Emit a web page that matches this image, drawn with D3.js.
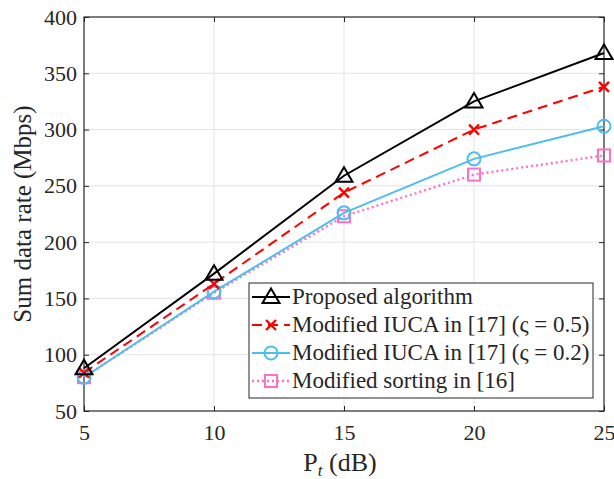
<!DOCTYPE html>
<html>
<head>
<meta charset="utf-8">
<script src="https://cdn.jsdelivr.net/npm/d3@7"></script>
<style>
  body { margin: 0; background: #fff; }
  text { font-family: "Liberation Serif", "DejaVu Serif", serif; fill: #262626; }
</style>
</head>
<body>
<svg id="chart" width="614" height="479"></svg>
<script>
// chart values
var powers = [5, 10, 15, 20, 25];
var proposed = [88, 172, 259, 325, 368];
var iuca05 = [84, 163, 244, 300, 338];
var iuca02 = [80, 156, 226, 274, 303];
var sorting = [80, 155, 223, 260, 277];
var yTicks = [50, 100, 150, 200, 250, 300, 350, 400];
var seriesNames = ['Proposed algorithm', 'Modified IUCA in [17] (\u03c2 = 0.5)',
    'Modified IUCA in [17] (\u03c2 = 0.2)', 'Modified sorting in [16]'];

(function() {
    var serif = '"Liberation Serif", "DejaVu Serif", serif';
    var series = [
        { name: seriesNames[0], values: proposed, color: '#000000', dash: null, marker: 'tri' },
        { name: seriesNames[1], values: iuca05, color: '#ff0000', dash: '10,6', marker: 'x' },
        { name: seriesNames[2], values: iuca02, color: '#4dbeee', dash: null, marker: 'circle' },
        { name: seriesNames[3], values: sorting, color: '#ff6ec7', dash: '2,3', marker: 'square' }
    ];

    var svg = d3.select('#chart'),
        pl = 84, pr = 604, pt = 17, pb = 411;

    var x = d3.scaleLinear().domain([5, 25]).range([pl, pr]);
    var y = d3.scaleLinear().domain([50, 400]).range([pb, pt]);

    // grid lines
    var grid = svg.append('g');
    grid.selectAll('.gx').data(powers.slice(1, -1)).enter().append('line')
        .attr('x1', function(d) { return x(d); }).attr('x2', function(d) { return x(d); })
        .attr('y1', pt).attr('y2', pb)
        .attr('stroke', '#e3e3e3').attr('stroke-width', 1);
    grid.selectAll('.gy').data(yTicks.slice(1, -1)).enter().append('line')
        .attr('x1', pl).attr('x2', pr)
        .attr('y1', function(d) { return y(d); }).attr('y2', function(d) { return y(d); })
        .attr('stroke', '#e3e3e3').attr('stroke-width', 1);

    // axes with inward ticks (box style)
    function styleAxis(g) {
        g.attr('font-family', serif);
        g.select('.domain').remove();
        g.selectAll('line').attr('stroke', '#262626');
        g.selectAll('text').style('font-size', '22px').style('font-family', serif).attr('fill', '#262626');
    }
    svg.append('g').attr('transform', 'translate(0,' + pb + ')')
        .call(d3.axisBottom(x).tickValues(powers).tickSize(-5).tickPadding(13))
        .call(styleAxis);
    svg.append('g').attr('transform', 'translate(0,' + pt + ')')
        .call(d3.axisTop(x).tickValues(powers).tickSize(-5).tickFormat(''))
        .call(styleAxis);
    svg.append('g').attr('transform', 'translate(' + pl + ',0)')
        .call(d3.axisLeft(y).tickValues(yTicks).tickSize(-5).tickPadding(7))
        .call(styleAxis);
    svg.append('g').attr('transform', 'translate(' + pr + ',0)')
        .call(d3.axisRight(y).tickValues(yTicks).tickSize(-5).tickFormat(''))
        .call(styleAxis);

    svg.append('rect').attr('x', pl).attr('y', pt)
        .attr('width', pr - pl).attr('height', pb - pt)
        .attr('fill', 'none').attr('stroke', '#262626').attr('stroke-width', 1.2);

    // markers
    function drawMarker(g, type, color) {
        if (type === 'tri') {
            g.append('path').attr('d', 'M0,-8.5L8.5,6L-8.5,6Z')
                .attr('fill', 'none').attr('stroke', color).attr('stroke-width', 2);
        } else if (type === 'x') {
            g.append('path').attr('d', 'M-5,-5L5,5M-5,5L5,-5')
                .attr('stroke', color).attr('stroke-width', 2.4);
        } else if (type === 'circle') {
            g.append('circle').attr('r', 6.5)
                .attr('fill', 'none').attr('stroke', color).attr('stroke-width', 2);
        } else {
            g.append('rect').attr('x', -6).attr('y', -6).attr('width', 12).attr('height', 12)
                .attr('fill', 'none').attr('stroke', color).attr('stroke-width', 2);
        }
    }

    var line = d3.line()
        .x(function(d, i) { return x(powers[i]); })
        .y(function(d) { return y(d); });

    series.slice().reverse().forEach(function(s) {
        svg.append('path').datum(s.values)
            .attr('d', line)
            .attr('fill', 'none')
            .attr('stroke', s.color)
            .attr('stroke-width', s.dash === '2,3' ? 2.4 : 2)
            .attr('stroke-dasharray', s.dash);
        s.values.forEach(function(v, i) {
            var g = svg.append('g').attr('transform', 'translate(' + x(powers[i]) + ',' + y(v) + ')');
            drawMarker(g, s.marker, s.color);
        });
    });

    // legend
    var legend = svg.append('g');
    legend.append('rect').attr('x', 249).attr('y', 283).attr('width', 344).attr('height', 115)
        .attr('fill', '#fff').attr('stroke', '#262626').attr('stroke-width', 1);
    series.forEach(function(s, i) {
        var ly = 297 + i * 28;
        legend.append('line').attr('x1', 252).attr('x2', 290).attr('y1', ly).attr('y2', ly)
            .attr('stroke', s.color).attr('stroke-width', s.dash === '2,3' ? 2.4 : 2)
            .attr('stroke-dasharray', s.dash);
        drawMarker(legend.append('g').attr('transform', 'translate(271,' + ly + ')'), s.marker, s.color);
        legend.append('text').attr('x', 292).attr('y', ly + 7)
            .style('font-size', '23px').attr('fill', '#000')
            .text(s.name);
    });

    // axis titles
    svg.append('text').attr('x', 340).attr('y', 471).attr('text-anchor', 'middle')
        .style('font-size', '26px').attr('fill', '#000')
        .html('P<tspan dy="5" style="font-size:17px;font-style:italic">t</tspan><tspan dy="-5"> (dB)</tspan>');
    svg.append('text').attr('transform', 'translate(31,' + ((pt + pb) / 2) + ') rotate(-90)')
        .attr('text-anchor', 'middle')
        .style('font-size', '25px').attr('fill', '#000')
        .text('Sum data rate (Mbps)');
})();
</script>
</body>
</html>
